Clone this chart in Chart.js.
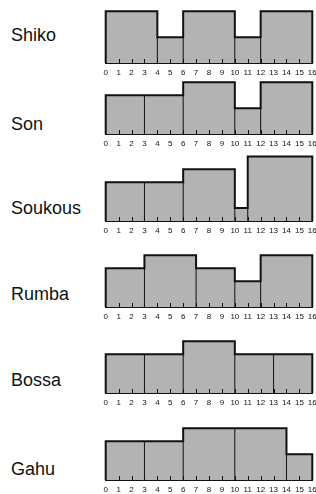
<!DOCTYPE html>
<html>
<head>
<meta charset="utf-8">
<script src="https://cdn.jsdelivr.net/npm/chart.js@4.4.1/dist/chart.umd.min.js"></script>
<style>
html, body { margin: 0; padding: 0; width: 316px; height: 494px; overflow: hidden; background: #fff; }
.name { position: absolute; left: 11px; font-family: "Liberation Sans", Arial, sans-serif; font-size: 18px; line-height: 18px; color: #111; white-space: nowrap; }
canvas { position: absolute; }
</style>
</head>
<body>
<script>
const rhythmNames = ['Shiko', 'Son', 'Soukous', 'Rumba', 'Bossa', 'Gahu'];
// inter-onset intervals, bar height = interval length
const shiko   = [4, 2, 4, 2, 4];
const son     = [3, 3, 4, 2, 4];
const soukous = [3, 3, 4, 1, 5];
const rumba   = [3, 4, 3, 2, 4];
const bossa   = [3, 3, 4, 3, 3];
const gahu    = [3, 3, 4, 4, 2];
const tickLabels = ['0', '1', '2', '3', '4', '5', '6', '7', '8', '9', '10', '11', '12', '13', '14', '15', '16'];

const rhythms = [shiko, son, soukous, rumba, bossa, gahu];

// page layout
const baselines = [63.3, 134, 221, 306.7, 392.7, 480.3];
const nameMid = [34.7, 124, 208, 293.7, 379.7, 468.3];
const AREA_H = 71, AXIS_H = 16, Y_MAX = 5.5;
const CANVAS_LEFT = 98, CANVAS_W = 222, PAD_X = 7.7;
const FILL = '#b3b3b3', INK = '#111';

// little tick marks pointing up into the bars
const innerTicks = {
    id: 'innerTicks',
    afterDatasetsDraw(chart) {
        const ctx = chart.ctx, x = chart.scales.x, y = chart.scales.y;
        const y0 = y.getPixelForValue(0);
        ctx.save();
        ctx.strokeStyle = INK;
        ctx.lineWidth = 1;
        ctx.beginPath();
        for (let i = 1; i < tickLabels.length - 1; i++) {
            const px = Math.round(x.getPixelForValue(i)) + 0.5;
            ctx.moveTo(px, y0);
            ctx.lineTo(px, y0 - 4);
        }
        ctx.stroke();
        ctx.restore();
    }
};

function outline(ioi) {
    const pts = [{ x: 0, y: 0 }];
    let t = 0;
    ioi.forEach(d => {
        pts.push({ x: t, y: d });
        t += d;
        pts.push({ x: t, y: d });
    });
    pts.push({ x: t, y: 0 });
    return pts;
}

function dividers(ioi) {
    const sets = [];
    let t = 0;
    for (let i = 0; i < ioi.length - 1; i++) {
        t += ioi[i];
        const h = Math.min(ioi[i], ioi[i + 1]);
        sets.push({
            data: [{ x: t, y: 0 }, { x: t, y: h }],
            showLine: true, borderColor: INK, borderWidth: 1,
            pointRadius: 0, fill: false, clip: false, order: 0
        });
    }
    return sets;
}

rhythms.forEach((ioi, k) => {
    const label = document.createElement('div');
    label.className = 'name';
    label.textContent = rhythmNames[k];
    label.style.top = (nameMid[k] - 8.7) + 'px';
    document.body.appendChild(label);

    const cv = document.createElement('canvas');
    cv.width = CANVAS_W;
    cv.height = AREA_H + AXIS_H;
    cv.style.width = CANVAS_W + 'px';
    cv.style.height = (AREA_H + AXIS_H) + 'px';
    cv.style.left = CANVAS_LEFT + 'px';
    cv.style.top = (baselines[k] - AREA_H) + 'px';
    document.body.appendChild(cv);

    new Chart(cv, {
        type: 'scatter',
        data: {
            datasets: [{
                data: outline(ioi),
                showLine: true,
                fill: 'origin',
                backgroundColor: FILL,
                borderColor: INK,
                borderWidth: 2,
                borderJoinStyle: 'miter',
                pointRadius: 0,
                tension: 0,
                clip: false,
                order: 1
            }].concat(dividers(ioi))
        },
        options: {
            responsive: false,
            animation: false,
            events: [],
            layout: { padding: { left: PAD_X, right: PAD_X, top: 0, bottom: 0 } },
            plugins: { legend: { display: false }, tooltip: { enabled: false } },
            scales: {
                x: {
                    type: 'linear', min: 0, max: 16, z: 1,
                    grid: { display: false, drawTicks: false },
                    border: { display: true, color: INK, width: 2 },
                    ticks: {
                        stepSize: 1, autoSkip: false, maxRotation: 0, padding: 5,
                        color: INK,
                        font: { family: '"Liberation Sans", Arial, sans-serif', size: 8 },
                        callback: v => tickLabels[v]
                    },
                    afterFit(s) { s.height = AXIS_H; s.paddingLeft = 0; s.paddingRight = 0; }
                },
                y: { display: false, min: 0, max: Y_MAX }
            }
        },
        plugins: [innerTicks]
    });
});
</script>
</body>
</html>
